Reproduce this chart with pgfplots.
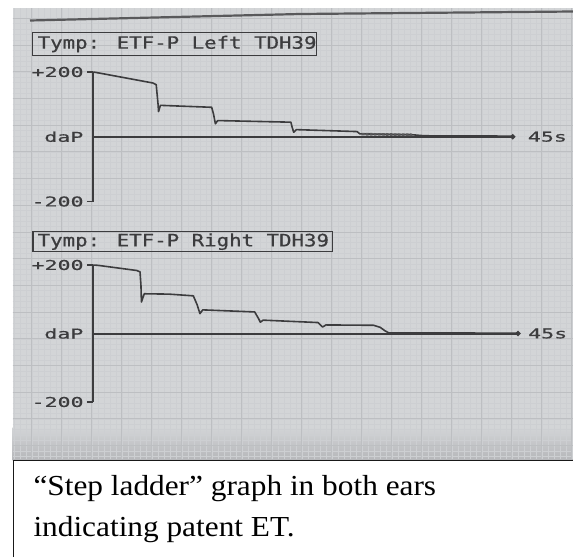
\documentclass[border=0pt]{standalone}
\usepackage{fontspec}
\usepackage{pgfplots}
\pgfplotsset{compat=1.18}
\setmainfont{Liberation Serif}
\newfontfamily\dotfont[FakeStretch=1.22,FakeBold=0.6]{DejaVu Sans Mono}
\newfontfamily\lblfont[FakeStretch=1.6,FakeBold=0.6]{DejaVu Sans Mono}
\newfontfamily\capfont[FakeStretch=1.08]{Liberation Serif}
\definecolor{paper}{RGB}{211,213,215}
\definecolor{gmaj}{RGB}{189,191,194}
\definecolor{gmin}{RGB}{205,207,210}
\definecolor{ink}{RGB}{60,60,62}
\definecolor{band}{RGB}{182,183,186}
\newcommand{\dotsize}{\dotfont\fontsize{17}{19}\selectfont}
\newcommand{\lblsize}{\lblfont\fontsize{13.5}{15}\selectfont}

\pgfplotsset{tymp/.style={
  scale only axis, xmin=0, xmax=45, ymin=-200, ymax=200,
  axis x line=none, axis y line=left,
  axis line style={draw=ink, line width=2pt, -},
  every outer y axis line/.append style={-},
  xtick=\empty, ytick={-200,200}, yticklabels={-200,+200},
  tick align=outside, major tick length=6pt,
  ytick style={draw=ink, line width=1.3pt},
  yticklabel style={font=\lblsize, text=ink, inner sep=0pt, xshift=-3.5pt},
  /pgf/number format/assume math mode=true,
  clip=false,
}}

\begin{document}
\begin{tikzpicture}
\useasboundingbox (0,0) rectangle (573pt,-557pt);
\begin{scope}[x=1pt,y=-1pt]
  \fill[white] (0,0) rectangle (573,557);
  \fill[paper] (12.5,8) rectangle (573,460);
  \shade[top color=paper, bottom color=band] (12.5,427) rectangle (573,460);
  % minor grid
  \foreach \i in {2,...,95} {\draw[gmin, line width=0.3pt] ({1.7+6*\i},8) -- ({1.7+6*\i},459);}
  \foreach \j in {0,...,82} {\draw[gmin, line width=0.3pt] (12.5,{18.3+5.34*\j}) -- (573,{18.3+5.34*\j});}
  % major grid
  \foreach \i in {1,...,19} {\draw[gmaj, line width=0.7pt] ({1.7+30*\i},8) -- ({1.7+30*\i},459);}
  \foreach \j in {0,...,16} {\draw[gmaj, line width=0.7pt] (12.5,{18.3+26.7*\j}) -- (573,{18.3+26.7*\j});}
  % dark line at top of printout
  \draw[ink!85, line width=2.2pt] (30,20.5) -- (300,14) -- (573,11.5);
  % title boxes
  \draw[ink, line width=1.4pt] (32.7,32.3) rectangle (316.7,55.7);
  \node[anchor=west, inner sep=0pt, text=ink, font=\dotsize] at (37.5,44) {Tymp: ETF-P Left TDH39};
  \draw[ink, line width=1.4pt] (33,231.7) rectangle (332.5,251.7);
  \node[anchor=west, inner sep=0pt, text=ink, font=\dotsize] at (37.5,241.7) {Tymp: ETF-P Right TDH39};
  % caption box
  \fill[white] (13.3,460.5) rectangle (573,557);
  \draw[black!90, line width=1.4pt] (13.3,557) -- (13.3,460.5) -- (573,460.5);
  \node[anchor=base west, inner sep=0pt, font=\capfont\fontsize{29}{34}\selectfont] at (33.3,495) {“Step ladder” graph in both ears};
  \node[anchor=base west, inner sep=0pt, font=\capfont\fontsize{29}{34}\selectfont] at (33.3,536.7) {indicating patent ET.};
\end{scope}

% Left ear
\begin{axis}[tymp, width=419.4pt, height=129.5pt, at={(93.3pt,-201.5pt)}, anchor=south west]
  \addplot[ink, line width=2pt, mark=*, mark size=1.5pt, mark indices={2}] coordinates {(0,0) (45,0)};
  \addplot[ink, line width=1.6pt, line join=round] coordinates {
    (0,200) (0.6,197) (6.4,166) (6.75,161) (6.85,130) (6.95,100) (7.0,78) (7.2,97)
    (12.7,91) (12.9,70) (13.1,40) (13.35,50) (21.2,45) (21.35,28) (21.5,14) (21.8,22)
    (28.3,16) (28.6,9) (34.3,6) (35.5,3) (45,2)};
  \addplot[ink!85, line width=2.6pt, dash pattern=on 3pt off 1pt] coordinates {(28.8,8) (34.2,6)};
  \node[anchor=east, inner sep=0pt, xshift=-9.7pt, text=ink, font=\lblsize] at (axis cs:0,0) {daP};
  \node[anchor=west, inner sep=0pt, xshift=15pt, text=ink, font=\lblsize] at (axis cs:45,0) {45s};
\end{axis}

% Right ear
\begin{axis}[tymp, width=424.7pt, height=137pt, at={(93.3pt,-402pt)}, anchor=south west]
  \addplot[ink, line width=2pt, mark=*, mark size=1.5pt, mark indices={2}] coordinates {(0,0) (45,0)};
  \addplot[ink, line width=1.6pt, line join=round] coordinates {
    (0,200) (0.5,199) (4.6,184) (4.95,180) (5.05,140) (5.1,92) (5.2,100) (5.4,116)
    (8,115) (10.6,110) (11.0,84) (11.3,58) (11.6,69) (17.1,63) (17.5,44) (17.7,33)
    (18.0,39) (23.8,32) (24.3,19) (24.65,25) (29.7,24) (30.4,18) (30.9,8) (31.3,2) (45,1)};
  \node[anchor=east, inner sep=0pt, xshift=-9.7pt, text=ink, font=\lblsize] at (axis cs:0,0) {daP};
  \node[anchor=west, inner sep=0pt, xshift=10pt, text=ink, font=\lblsize] at (axis cs:45,0) {45s};
\end{axis}
\end{tikzpicture}
\end{document}
